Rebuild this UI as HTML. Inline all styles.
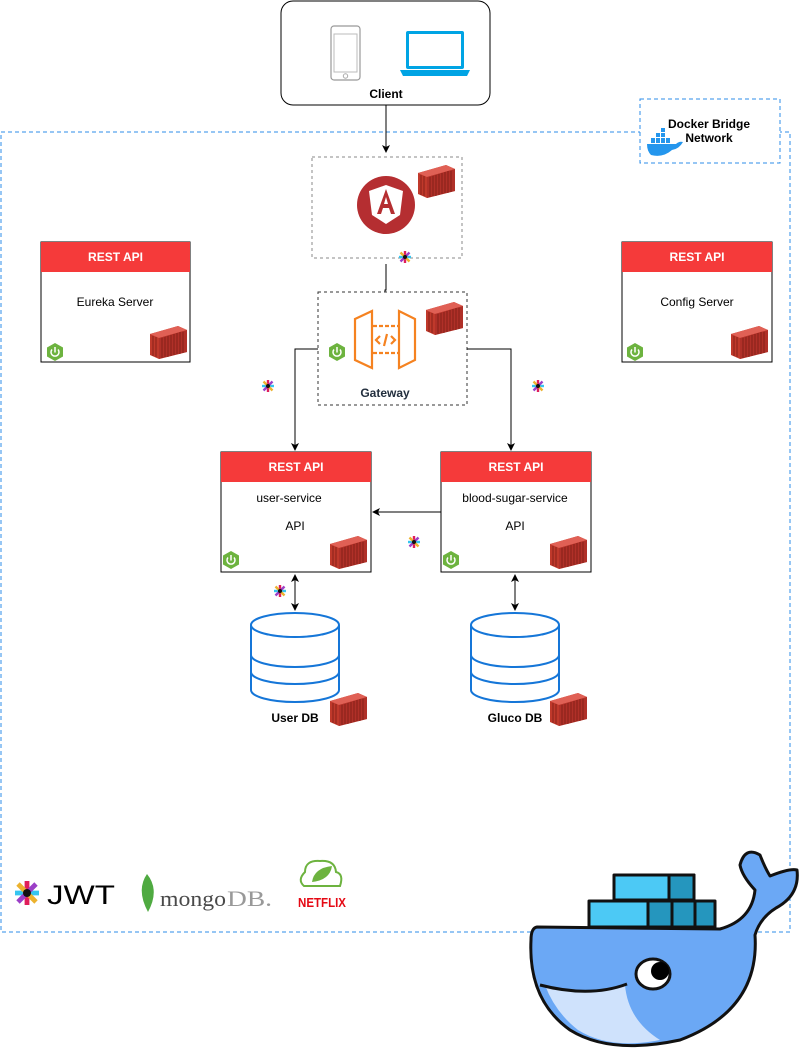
<!DOCTYPE html>
<html><head><meta charset="utf-8"><style>
html,body{margin:0;padding:0;background:#fff}
svg{display:block}
text{font-family:"Liberation Sans",Arial,sans-serif}
</style></head><body>
<svg width="801" height="1051" viewBox="0 0 801 1051" xmlns="http://www.w3.org/2000/svg">
<defs>
<g id="cont">
 <path d="M0 8 L28 0 L37 4 L37 26 L9 33 L0 29 Z" fill="#c0392b"/>
 <path d="M0 8 L28 0 L37 4 L9 12 Z" fill="#e06055"/>
 <path d="M9 12 L37 4 L37 26 L9 33 Z" fill="#b03028"/>
 <g stroke="#7a1c15" stroke-width="0.8">
  <line x1="12" y1="12" x2="12" y2="32"/><line x1="15" y1="11" x2="15" y2="31"/><line x1="18" y1="10" x2="18" y2="31"/><line x1="21" y1="9" x2="21" y2="30"/><line x1="24" y1="8" x2="24" y2="29"/><line x1="27" y1="7" x2="27" y2="28"/><line x1="30" y1="6" x2="30" y2="28"/><line x1="33" y1="6" x2="33" y2="27"/>
  <line x1="3" y1="10" x2="3" y2="30"/><line x1="6" y1="11" x2="6" y2="31"/>
 </g>
</g>
<g id="spring">
 <path d="M0 -9 L8 -4.5 L8 4.5 L0 9 L-8 4.5 L-8 -4.5 Z" fill="#6db33f"/>
 <path d="M-3 -2.5 A4 4 0 1 0 3 -2.5" fill="none" stroke="#fff" stroke-width="1.5"/>
 <line x1="0" y1="-5" x2="0" y2="0.5" stroke="#fff" stroke-width="1.5"/>
</g>
<g id="slack">
 <line x1="-6" y1="0" x2="6" y2="0" stroke="#36c5f0" stroke-width="2.4"/>
 <line x1="0" y1="-6" x2="0" y2="6" stroke="#e01e5a" stroke-width="2.4"/>
 <line x1="-4.5" y1="-4.5" x2="4.5" y2="4.5" stroke="#ecb22e" stroke-width="2.4"/>
 <line x1="-4.5" y1="4.5" x2="4.5" y2="-4.5" stroke="#9b3fc7" stroke-width="2.4"/>
 <circle r="2" fill="#111"/>
</g>
<marker id="ar" markerWidth="8" markerHeight="8" refX="7" refY="4" orient="auto" markerUnits="userSpaceOnUse"><path d="M0 0 L8 4 L0 8 L2 4 Z" fill="#000"/></marker>
<marker id="as" markerWidth="8" markerHeight="8" refX="1" refY="4" orient="auto" markerUnits="userSpaceOnUse"><path d="M8 0 L0 4 L8 8 L6 4 Z" fill="#000"/></marker>
</defs>

<rect x="1" y="132" width="789" height="800" fill="none" stroke="#2d8ce8" stroke-dasharray="4 3"/>
<rect x="640" y="99" width="140" height="64" fill="#fff" stroke="#2d8ce8" stroke-dasharray="4 3"/>
<text x="709" y="128" font-size="12" font-weight="bold" text-anchor="middle">Docker Bridge</text>
<text x="709" y="142" font-size="12" font-weight="bold" text-anchor="middle">Network</text>
<g fill="#2496ed">
 <path d="M647 144 L676 144 Q679 141 683 142 Q679 149 672 150 Q663 158 651 155 Q647 151 647 144 Z"/>
 <rect x="651" y="138" width="4" height="5"/><rect x="656" y="138" width="4" height="5"/><rect x="661" y="138" width="4" height="5"/><rect x="666" y="138" width="4" height="5"/><rect x="656" y="133" width="4" height="4"/><rect x="661" y="133" width="4" height="4"/><rect x="661" y="128" width="4" height="4"/>
</g>

<rect x="281" y="1" width="209" height="104" rx="12" fill="#fff" stroke="#000"/>
<rect x="331" y="26" width="29" height="54" rx="3" fill="#fff" stroke="#999" stroke-width="1.2"/>
<rect x="334" y="34" width="23" height="38" fill="#fff" stroke="#bbb"/>
<circle cx="345.5" cy="76" r="2.2" fill="none" stroke="#aaa"/>
<rect x="406" y="31" width="58" height="38" rx="2" fill="#00a4e4"/>
<rect x="409" y="34" width="52" height="32" fill="#fff"/>
<path d="M400 70 L470 70 L467 76 L403 76 Z" fill="#00a4e4"/>
<text x="386" y="98" font-size="12" font-weight="bold" text-anchor="middle">Client</text>
<line x1="386" y1="105" x2="386" y2="152" stroke="#000" marker-end="url(#ar)"/>

<rect x="312" y="157" width="150" height="101" fill="#fff" stroke="#888" stroke-dasharray="3 3"/>
<circle cx="386" cy="205" r="29" fill="#b52e31"/>
<path d="M386 185 L403 191 L400 215 L386 224 L372 215 L369 191 Z" fill="#fff"/>
<path d="M386 189 L377 214 L381 214 L383 208 L389 208 L391 214 L395 214 Z M384 204 L386 197 L388 204 Z" fill="#b52e31" fill-rule="evenodd"/>
<use href="#cont" x="418" y="165"/>
<use href="#slack" x="405" y="257"/>
<polyline points="386,264 386,290 385,290 385,300" fill="none" stroke="#000" marker-end="url(#ar)"/>

<rect x="318" y="292" width="149" height="113" fill="#fff" stroke="#333" stroke-dasharray="3 3"/>
<g fill="none" stroke="#f58220" stroke-width="2.2">
 <path d="M355 319 L372 311 L372 368 L355 360 Z"/>
 <path d="M415 319 L399 311 L399 368 L415 360 Z"/>
 <line x1="373" y1="326" x2="398" y2="326" stroke-dasharray="4 2"/>
 <line x1="373" y1="353" x2="398" y2="353" stroke-dasharray="4 2"/>
 <path d="M380 336 L376 340 L380 344 M391 336 L395 340 L391 344 M387 334 L384 346"/>
</g>
<use href="#spring" x="337" y="352"/>
<use href="#cont" x="426" y="302"/>
<text x="385" y="397" font-size="12" font-weight="bold" fill="#232f3e" text-anchor="middle">Gateway</text>

<polyline points="318,349 295,349 295,450" fill="none" stroke="#000" marker-end="url(#ar)"/>
<polyline points="467,349 511,349 511,450" fill="none" stroke="#000" marker-end="url(#ar)"/>
<use href="#slack" x="268" y="386"/>
<use href="#slack" x="538" y="386"/>

<g>
 <rect x="41" y="242" width="149" height="120" fill="#fff" stroke="#000"/>
 <rect x="41" y="242" width="149" height="30" fill="#f53a3a"/>
 <text x="115.5" y="261" font-size="12" font-weight="bold" fill="#fff" text-anchor="middle">REST API</text>
 <text x="115" y="306" font-size="12" text-anchor="middle">Eureka Server</text>
 <use href="#spring" x="55" y="352"/><use href="#cont" x="150" y="326"/>
</g>
<g>
 <rect x="622" y="242" width="150" height="120" fill="#fff" stroke="#000"/>
 <rect x="622" y="242" width="150" height="30" fill="#f53a3a"/>
 <text x="697" y="261" font-size="12" font-weight="bold" fill="#fff" text-anchor="middle">REST API</text>
 <text x="697" y="306" font-size="12" text-anchor="middle">Config Server</text>
 <use href="#spring" x="635" y="352"/><use href="#cont" x="731" y="326"/>
</g>
<g>
 <rect x="221" y="452" width="150" height="120" fill="#fff" stroke="#000"/>
 <rect x="221" y="452" width="150" height="30" fill="#f53a3a"/>
 <text x="296" y="471" font-size="12" font-weight="bold" fill="#fff" text-anchor="middle">REST API</text>
 <text x="289" y="502" font-size="12" text-anchor="middle">user-service</text>
 <text x="295" y="530" font-size="12" text-anchor="middle">API</text>
 <use href="#spring" x="231" y="560"/><use href="#cont" x="330" y="536"/>
</g>
<g>
 <rect x="441" y="452" width="150" height="120" fill="#fff" stroke="#000"/>
 <rect x="441" y="452" width="150" height="30" fill="#f53a3a"/>
 <text x="516" y="471" font-size="12" font-weight="bold" fill="#fff" text-anchor="middle">REST API</text>
 <text x="515" y="502" font-size="12" text-anchor="middle">blood-sugar-service</text>
 <text x="515" y="530" font-size="12" text-anchor="middle">API</text>
 <use href="#spring" x="451" y="560"/><use href="#cont" x="550" y="536"/>
</g>
<line x1="441" y1="512" x2="373" y2="512" stroke="#000" marker-end="url(#ar)"/>
<use href="#slack" x="414" y="542"/>
<use href="#slack" x="280" y="591"/>
<line x1="295" y1="575" x2="295" y2="610" stroke="#000" marker-start="url(#as)" marker-end="url(#ar)"/>
<line x1="515" y1="575" x2="515" y2="610" stroke="#000" marker-start="url(#as)" marker-end="url(#ar)"/>

<g fill="#fff" stroke="#1576d8" stroke-width="2">
 <path d="M251 625 L251 690 A44 12 0 0 0 339 690 L339 625"/>
 <ellipse cx="295" cy="625" rx="44" ry="12"/>
 <path d="M251 655 A44 12 0 0 0 339 655 M251 672 A44 12 0 0 0 339 672" fill="none"/>
 <path d="M471 625 L471 690 A44 12 0 0 0 559 690 L559 625"/>
 <ellipse cx="515" cy="625" rx="44" ry="12"/>
 <path d="M471 655 A44 12 0 0 0 559 655 M471 672 A44 12 0 0 0 559 672" fill="none"/>
</g>
<text x="295" y="722" font-size="12" font-weight="bold" text-anchor="middle">User DB</text>
<text x="515" y="722" font-size="12" font-weight="bold" text-anchor="middle">Gluco DB</text>
<use href="#cont" x="330" y="693"/>
<use href="#cont" x="550" y="693"/>

<g transform="translate(27 893) scale(2)"><use href="#slack"/></g>
<text x="47" y="904" font-size="27" fill="#000" textLength="68" lengthAdjust="spacingAndGlyphs">JWT</text>
<path d="M147 874 Q160 890 148 912 Q136 890 147 874 Z" fill="#4faa41"/>
<text x="160" y="906" style="font-family:'Liberation Serif',serif" font-size="22" fill="#4a4a4a" textLength="66" lengthAdjust="spacingAndGlyphs">mongo</text>
<text x="227" y="906" style="font-family:'Liberation Serif',serif" font-size="22" fill="#999" textLength="45" lengthAdjust="spacingAndGlyphs">DB.</text>
<path d="M305 872 Q305 860 320 861 Q335 860 336 872 Q344 874 340 886 L304 886 Q297 880 305 872 Z" fill="none" stroke="#6db33f" stroke-width="2"/>
<path d="M312 882 Q314 868 332 866 Q330 880 312 882 Z" fill="#6db33f"/>
<text x="322" y="907" font-size="13" font-weight="bold" fill="#e50914" text-anchor="middle" textLength="48" lengthAdjust="spacingAndGlyphs">NETFLIX</text>

<g stroke="#111" stroke-width="3" stroke-linejoin="round">
 <rect x="614" y="875" width="80" height="25" fill="#4cc9f5"/>
 <rect x="589" y="901" width="88" height="26" fill="#4cc9f5"/>
 <rect x="669" y="875" width="25" height="25" fill="#2596be"/>
 <rect x="648" y="901" width="24" height="26" fill="#2596be"/>
 <rect x="672" y="901" width="23" height="26" fill="#2596be"/>
 <rect x="695" y="901" width="20" height="26" fill="#2596be"/>
 <path d="M537 927 L720 929 Q752 920 755 890 Q742 876 740 865 Q745 846 760 855 Q765 868 770 876 Q790 868 797 870 Q800 895 776 908 Q760 918 755 935 Q760 1010 680 1040 Q610 1055 570 1030 Q528 1000 531 940 Q531 928 537 927 Z" fill="#6ba8f5"/>
</g>
<path d="M545 985 Q590 1000 625 985 Q628 1020 660 1040 Q610 1050 578 1030 Q555 1012 545 985 Z" fill="#cfe2fc"/>
<path d="M540 985 Q590 998 627 984" fill="none" stroke="#111" stroke-width="3"/>
<ellipse cx="653" cy="974" rx="17" ry="15" fill="#fff" stroke="#111" stroke-width="3"/>
<circle cx="660" cy="971" r="9" fill="#000"/>
</svg>
</body></html>
